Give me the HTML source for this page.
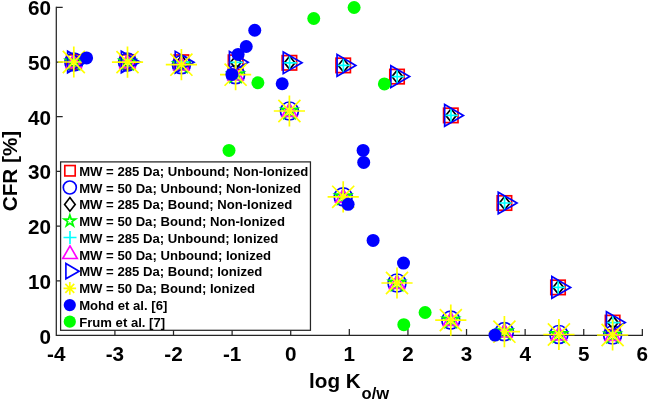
<!DOCTYPE html>
<html><head><meta charset="utf-8"><title>CFR vs log Ko/w</title>
<style>html,body{margin:0;padding:0;background:#fff}svg{display:block}text{font-family:"Liberation Sans",Arial,sans-serif;font-weight:bold;fill:#000}</style></head><body>
<svg width="648" height="400" viewBox="0 0 648 400">
<rect width="648" height="400" fill="#fff"/>
<path d="M56.3 6.7V335.45H642.95" fill="none" stroke="#262626" stroke-width="1.25"/>
<path d="M114.91 335.45v-6.4M173.51 335.45v-6.4M232.12 335.45v-6.4M290.72 335.45v-6.4M349.32 335.45v-6.4M407.93 335.45v-6.4M466.53 335.45v-6.4M525.14 335.45v-6.4M583.74 335.45v-6.4M642.35 335.45v-6.4M56.3 280.76h6.4M56.3 226.07h6.4M56.3 171.38h6.4M56.3 116.69h6.4M56.3 62.00h6.4M56.3 7.31h6.4" fill="none" stroke="#262626" stroke-width="1.25"/>
<text x="56.30" y="361.3" font-size="20.7" text-anchor="middle">-4</text>
<text x="114.91" y="361.3" font-size="20.7" text-anchor="middle">-3</text>
<text x="173.51" y="361.3" font-size="20.7" text-anchor="middle">-2</text>
<text x="232.12" y="361.3" font-size="20.7" text-anchor="middle">-1</text>
<text x="290.72" y="361.3" font-size="20.7" text-anchor="middle">0</text>
<text x="349.32" y="361.3" font-size="20.7" text-anchor="middle">1</text>
<text x="407.93" y="361.3" font-size="20.7" text-anchor="middle">2</text>
<text x="466.53" y="361.3" font-size="20.7" text-anchor="middle">3</text>
<text x="525.14" y="361.3" font-size="20.7" text-anchor="middle">4</text>
<text x="583.74" y="361.3" font-size="20.7" text-anchor="middle">5</text>
<text x="642.35" y="361.3" font-size="20.7" text-anchor="middle">6</text>
<text x="51" y="343.55" font-size="20.7" text-anchor="end">0</text>
<text x="51" y="288.86" font-size="20.7" text-anchor="end">10</text>
<text x="51" y="234.17" font-size="20.7" text-anchor="end">20</text>
<text x="51" y="179.48" font-size="20.7" text-anchor="end">30</text>
<text x="51" y="124.79" font-size="20.7" text-anchor="end">40</text>
<text x="51" y="70.10" font-size="20.7" text-anchor="end">50</text>
<text x="51" y="15.41" font-size="20.7" text-anchor="end">60</text>
<text transform="translate(17.1 171) rotate(-90)" font-size="20.7" text-anchor="middle">CFR [%]</text>
<text x="309" y="387.5" font-size="20.7">log K<tspan font-size="16.6" dx="0.8" dy="11.6">o/w</tspan></text>
<g stroke-miterlimit="10"><rect x="66.60" y="54.80" width="14.40" height="14.40" fill="none" stroke="#ff0000" stroke-width="1.7"/><rect x="120.30" y="54.80" width="14.40" height="14.40" fill="none" stroke="#ff0000" stroke-width="1.7"/><rect x="174.20" y="55.00" width="14.40" height="14.40" fill="none" stroke="#ff0000" stroke-width="1.7"/><rect x="228.40" y="55.10" width="14.40" height="14.40" fill="none" stroke="#ff0000" stroke-width="1.7"/><rect x="282.20" y="55.60" width="14.40" height="14.40" fill="none" stroke="#ff0000" stroke-width="1.7"/><rect x="336.00" y="58.20" width="14.40" height="14.40" fill="none" stroke="#ff0000" stroke-width="1.7"/><rect x="389.80" y="69.40" width="14.40" height="14.40" fill="none" stroke="#ff0000" stroke-width="1.7"/><rect x="443.60" y="108.20" width="14.40" height="14.40" fill="none" stroke="#ff0000" stroke-width="1.7"/><rect x="497.20" y="195.80" width="14.40" height="14.40" fill="none" stroke="#ff0000" stroke-width="1.7"/><rect x="550.80" y="280.20" width="14.40" height="14.40" fill="none" stroke="#ff0000" stroke-width="1.7"/><rect x="605.40" y="315.40" width="14.40" height="14.40" fill="none" stroke="#ff0000" stroke-width="1.7"/></g>
<g stroke-miterlimit="10"><circle cx="73.80" cy="62.00" r="9.0" fill="none" stroke="#0000ff" stroke-width="1.7"/><circle cx="127.50" cy="62.10" r="9.0" fill="none" stroke="#0000ff" stroke-width="1.7"/><circle cx="181.40" cy="64.70" r="9.0" fill="none" stroke="#0000ff" stroke-width="1.7"/><circle cx="235.60" cy="74.70" r="9.0" fill="none" stroke="#0000ff" stroke-width="1.7"/><circle cx="289.40" cy="111.00" r="9.0" fill="none" stroke="#0000ff" stroke-width="1.7"/><circle cx="343.20" cy="196.80" r="9.0" fill="none" stroke="#0000ff" stroke-width="1.7"/><circle cx="397.00" cy="283.00" r="9.0" fill="none" stroke="#0000ff" stroke-width="1.7"/><circle cx="450.80" cy="320.10" r="9.0" fill="none" stroke="#0000ff" stroke-width="1.7"/><circle cx="504.40" cy="331.70" r="9.0" fill="none" stroke="#0000ff" stroke-width="1.7"/><circle cx="558.90" cy="334.50" r="9.0" fill="none" stroke="#0000ff" stroke-width="1.7"/><circle cx="612.60" cy="335.00" r="9.0" fill="none" stroke="#0000ff" stroke-width="1.7"/></g>
<g stroke-miterlimit="10"><path d="M74.10 55.40L79.40 62.00L74.10 68.60L68.80 62.00Z" fill="none" stroke="#000000" stroke-width="1.7"/><path d="M127.80 55.40L133.10 62.00L127.80 68.60L122.50 62.00Z" fill="none" stroke="#000000" stroke-width="1.7"/><path d="M181.70 55.60L187.00 62.20L181.70 68.80L176.40 62.20Z" fill="none" stroke="#000000" stroke-width="1.7"/><path d="M235.90 55.70L241.20 62.30L235.90 68.90L230.60 62.30Z" fill="none" stroke="#000000" stroke-width="1.7"/><path d="M289.70 56.20L295.00 62.80L289.70 69.40L284.40 62.80Z" fill="none" stroke="#000000" stroke-width="1.7"/><path d="M343.50 58.80L348.80 65.40L343.50 72.00L338.20 65.40Z" fill="none" stroke="#000000" stroke-width="1.7"/><path d="M397.30 70.00L402.60 76.60L397.30 83.20L392.00 76.60Z" fill="none" stroke="#000000" stroke-width="1.7"/><path d="M451.10 108.80L456.40 115.40L451.10 122.00L445.80 115.40Z" fill="none" stroke="#000000" stroke-width="1.7"/><path d="M504.70 196.40L510.00 203.00L504.70 209.60L499.40 203.00Z" fill="none" stroke="#000000" stroke-width="1.7"/><path d="M558.30 280.80L563.60 287.40L558.30 294.00L553.00 287.40Z" fill="none" stroke="#000000" stroke-width="1.7"/><path d="M612.90 316.00L618.20 322.60L612.90 329.20L607.60 322.60Z" fill="none" stroke="#000000" stroke-width="1.7"/></g>
<g stroke-miterlimit="10"><path d="M73.80 53.40L75.73 59.34L81.98 59.34L76.92 63.02L78.85 68.96L73.80 65.29L68.75 68.96L70.68 63.02L65.62 59.34L71.87 59.34Z" fill="none" stroke="#00ff00" stroke-width="1.7" stroke-miterlimit="10"/><path d="M127.50 53.50L129.43 59.44L135.68 59.44L130.62 63.12L132.55 69.06L127.50 65.39L122.45 69.06L124.38 63.12L119.32 59.44L125.57 59.44Z" fill="none" stroke="#00ff00" stroke-width="1.7" stroke-miterlimit="10"/><path d="M181.40 56.10L183.33 62.04L189.58 62.04L184.52 65.72L186.45 71.66L181.40 67.99L176.35 71.66L178.28 65.72L173.22 62.04L179.47 62.04Z" fill="none" stroke="#00ff00" stroke-width="1.7" stroke-miterlimit="10"/><path d="M235.60 66.10L237.53 72.04L243.78 72.04L238.72 75.72L240.65 81.66L235.60 77.99L230.55 81.66L232.48 75.72L227.42 72.04L233.67 72.04Z" fill="none" stroke="#00ff00" stroke-width="1.7" stroke-miterlimit="10"/><path d="M289.40 102.40L291.33 108.34L297.58 108.34L292.52 112.02L294.45 117.96L289.40 114.29L284.35 117.96L286.28 112.02L281.22 108.34L287.47 108.34Z" fill="none" stroke="#00ff00" stroke-width="1.7" stroke-miterlimit="10"/><path d="M343.20 188.20L345.13 194.14L351.38 194.14L346.32 197.82L348.25 203.76L343.20 200.09L338.15 203.76L340.08 197.82L335.02 194.14L341.27 194.14Z" fill="none" stroke="#00ff00" stroke-width="1.7" stroke-miterlimit="10"/><path d="M397.00 274.40L398.93 280.34L405.18 280.34L400.12 284.02L402.05 289.96L397.00 286.29L391.95 289.96L393.88 284.02L388.82 280.34L395.07 280.34Z" fill="none" stroke="#00ff00" stroke-width="1.7" stroke-miterlimit="10"/><path d="M450.80 311.50L452.73 317.44L458.98 317.44L453.92 321.12L455.85 327.06L450.80 323.39L445.75 327.06L447.68 321.12L442.62 317.44L448.87 317.44Z" fill="none" stroke="#00ff00" stroke-width="1.7" stroke-miterlimit="10"/><path d="M504.40 323.10L506.33 329.04L512.58 329.04L507.52 332.72L509.45 338.66L504.40 334.99L499.35 338.66L501.28 332.72L496.22 329.04L502.47 329.04Z" fill="none" stroke="#00ff00" stroke-width="1.7" stroke-miterlimit="10"/><path d="M558.90 325.90L560.83 331.84L567.08 331.84L562.02 335.52L563.95 341.46L558.90 337.79L553.85 341.46L555.78 335.52L550.72 331.84L556.97 331.84Z" fill="none" stroke="#00ff00" stroke-width="1.7" stroke-miterlimit="10"/><path d="M612.60 326.40L614.53 332.34L620.78 332.34L615.72 336.02L617.65 341.96L612.60 338.29L607.55 341.96L609.48 336.02L604.42 332.34L610.67 332.34Z" fill="none" stroke="#00ff00" stroke-width="1.7" stroke-miterlimit="10"/></g>
<g stroke-miterlimit="10"><path d="M66.80 62.00H81.20M74.00 54.80V69.20" fill="none" stroke="#00ffff" stroke-width="1.7"/><path d="M120.50 62.00H134.90M127.70 54.80V69.20" fill="none" stroke="#00ffff" stroke-width="1.7"/><path d="M174.40 62.20H188.80M181.60 55.00V69.40" fill="none" stroke="#00ffff" stroke-width="1.7"/><path d="M228.60 62.30H243.00M235.80 55.10V69.50" fill="none" stroke="#00ffff" stroke-width="1.7"/><path d="M282.40 62.80H296.80M289.60 55.60V70.00" fill="none" stroke="#00ffff" stroke-width="1.7"/><path d="M336.20 65.40H350.60M343.40 58.20V72.60" fill="none" stroke="#00ffff" stroke-width="1.7"/><path d="M390.00 76.60H404.40M397.20 69.40V83.80" fill="none" stroke="#00ffff" stroke-width="1.7"/><path d="M443.80 115.40H458.20M451.00 108.20V122.60" fill="none" stroke="#00ffff" stroke-width="1.7"/><path d="M497.40 203.00H511.80M504.60 195.80V210.20" fill="none" stroke="#00ffff" stroke-width="1.7"/><path d="M551.00 287.40H565.40M558.20 280.20V294.60" fill="none" stroke="#00ffff" stroke-width="1.7"/><path d="M605.60 322.60H620.00M612.80 315.40V329.80" fill="none" stroke="#00ffff" stroke-width="1.7"/></g>
<g stroke-miterlimit="10"><path d="M73.80 54.40L81.25 67.30L66.35 67.30Z" fill="none" stroke="#ff00ff" stroke-width="1.7"/><path d="M127.50 54.50L134.95 67.40L120.05 67.40Z" fill="none" stroke="#ff00ff" stroke-width="1.7"/><path d="M181.40 57.10L188.85 70.00L173.95 70.00Z" fill="none" stroke="#ff00ff" stroke-width="1.7"/><path d="M235.60 67.10L243.05 80.00L228.15 80.00Z" fill="none" stroke="#ff00ff" stroke-width="1.7"/><path d="M289.40 103.40L296.85 116.30L281.95 116.30Z" fill="none" stroke="#ff00ff" stroke-width="1.7"/><path d="M343.20 189.20L350.65 202.10L335.75 202.10Z" fill="none" stroke="#ff00ff" stroke-width="1.7"/><path d="M397.00 275.40L404.45 288.30L389.55 288.30Z" fill="none" stroke="#ff00ff" stroke-width="1.7"/><path d="M450.80 312.50L458.25 325.40L443.35 325.40Z" fill="none" stroke="#ff00ff" stroke-width="1.7"/><path d="M504.40 324.10L511.85 337.00L496.95 337.00Z" fill="none" stroke="#ff00ff" stroke-width="1.7"/><path d="M558.90 326.90L566.35 339.80L551.45 339.80Z" fill="none" stroke="#ff00ff" stroke-width="1.7"/><path d="M612.60 327.40L620.05 340.30L605.15 340.30Z" fill="none" stroke="#ff00ff" stroke-width="1.7"/></g>
<g stroke-miterlimit="10"><path d="M86.40 62.00L67.65 72.83L67.65 51.17Z" fill="none" stroke="#0000ff" stroke-width="1.7"/><path d="M140.10 62.00L121.35 72.83L121.35 51.17Z" fill="none" stroke="#0000ff" stroke-width="1.7"/><path d="M194.00 62.20L175.25 73.03L175.25 51.37Z" fill="none" stroke="#0000ff" stroke-width="1.7"/><path d="M248.20 62.30L229.45 73.13L229.45 51.47Z" fill="none" stroke="#0000ff" stroke-width="1.7"/><path d="M302.00 62.80L283.25 73.63L283.25 51.97Z" fill="none" stroke="#0000ff" stroke-width="1.7"/><path d="M355.80 65.40L337.05 76.23L337.05 54.57Z" fill="none" stroke="#0000ff" stroke-width="1.7"/><path d="M409.60 76.60L390.85 87.43L390.85 65.77Z" fill="none" stroke="#0000ff" stroke-width="1.7"/><path d="M463.40 115.40L444.65 126.23L444.65 104.57Z" fill="none" stroke="#0000ff" stroke-width="1.7"/><path d="M517.00 203.00L498.25 213.83L498.25 192.17Z" fill="none" stroke="#0000ff" stroke-width="1.7"/><path d="M570.60 287.40L551.85 298.23L551.85 276.57Z" fill="none" stroke="#0000ff" stroke-width="1.7"/><path d="M625.20 322.60L606.45 333.43L606.45 311.77Z" fill="none" stroke="#0000ff" stroke-width="1.7"/></g>
<g stroke-miterlimit="10"><path d="M58.20 62.00H89.40M73.80 46.40V77.60M62.77 50.97L84.83 73.03M62.77 73.03L84.83 50.97" fill="none" stroke="#ffff00" stroke-width="1.7"/><path d="M111.90 62.10H143.10M127.50 46.50V77.70M116.47 51.07L138.53 73.13M116.47 73.13L138.53 51.07" fill="none" stroke="#ffff00" stroke-width="1.7"/><path d="M165.80 64.70H197.00M181.40 49.10V80.30M170.37 53.67L192.43 75.73M170.37 75.73L192.43 53.67" fill="none" stroke="#ffff00" stroke-width="1.7"/><path d="M220.00 74.70H251.20M235.60 59.10V90.30M224.57 63.67L246.63 85.73M224.57 85.73L246.63 63.67" fill="none" stroke="#ffff00" stroke-width="1.7"/><path d="M273.80 111.00H305.00M289.40 95.40V126.60M278.37 99.97L300.43 122.03M278.37 122.03L300.43 99.97" fill="none" stroke="#ffff00" stroke-width="1.7"/><path d="M327.60 196.80H358.80M343.20 181.20V212.40M332.17 185.77L354.23 207.83M332.17 207.83L354.23 185.77" fill="none" stroke="#ffff00" stroke-width="1.7"/><path d="M381.40 283.00H412.60M397.00 267.40V298.60M385.97 271.97L408.03 294.03M385.97 294.03L408.03 271.97" fill="none" stroke="#ffff00" stroke-width="1.7"/><path d="M435.20 320.10H466.40M450.80 304.50V335.70M439.77 309.07L461.83 331.13M439.77 331.13L461.83 309.07" fill="none" stroke="#ffff00" stroke-width="1.7"/><path d="M488.80 331.70H520.00M504.40 316.10V347.30M493.37 320.67L515.43 342.73M493.37 342.73L515.43 320.67" fill="none" stroke="#ffff00" stroke-width="1.7"/><path d="M543.30 334.50H574.50M558.90 318.90V350.10M547.87 323.47L569.93 345.53M547.87 345.53L569.93 323.47" fill="none" stroke="#ffff00" stroke-width="1.7"/><path d="M597.00 335.00H628.20M612.60 319.40V350.60M601.57 323.97L623.63 346.03M601.57 346.03L623.63 323.97" fill="none" stroke="#ffff00" stroke-width="1.7"/></g>
<g><circle cx="86.60" cy="57.90" r="6.5" fill="#0000ff"/><circle cx="254.75" cy="30.25" r="6.5" fill="#0000ff"/><circle cx="246.25" cy="46.50" r="6.5" fill="#0000ff"/><circle cx="238.10" cy="54.40" r="6.5" fill="#0000ff"/><circle cx="231.90" cy="74.40" r="6.5" fill="#0000ff"/><circle cx="282.20" cy="83.75" r="6.5" fill="#0000ff"/><circle cx="348.10" cy="204.30" r="6.5" fill="#0000ff"/><circle cx="373.10" cy="240.40" r="6.5" fill="#0000ff"/><circle cx="363.10" cy="150.40" r="6.5" fill="#0000ff"/><circle cx="363.70" cy="162.40" r="6.5" fill="#0000ff"/><circle cx="403.50" cy="263.10" r="6.5" fill="#0000ff"/><circle cx="495.00" cy="335.10" r="6.5" fill="#0000ff"/></g>
<g><circle cx="229.00" cy="150.40" r="6.5" fill="#00ff00"/><circle cx="257.90" cy="82.75" r="6.5" fill="#00ff00"/><circle cx="313.75" cy="18.50" r="6.5" fill="#00ff00"/><circle cx="354.10" cy="7.50" r="6.5" fill="#00ff00"/><circle cx="384.40" cy="83.90" r="6.5" fill="#00ff00"/><circle cx="403.80" cy="324.70" r="6.5" fill="#00ff00"/><circle cx="425.10" cy="312.50" r="6.5" fill="#00ff00"/></g>
<rect x="60.6" y="161.9" width="249.85" height="168.4" fill="#fff" stroke="#262626" stroke-width="1.25"/>
<text x="79.2" y="175.90" font-size="13.12">MW = 285 Da; Unbound; Non-Ionized</text>
<rect x="64.80" y="165.55" width="10.40" height="10.40" fill="none" stroke="#ff0000" stroke-width="1.65"/>
<text x="79.2" y="192.65" font-size="13.12">MW = 50 Da; Unbound; Non-Ionized</text>
<circle cx="69.80" cy="187.52" r="6.5" fill="none" stroke="#0000ff" stroke-width="1.65"/>
<text x="79.2" y="209.40" font-size="13.12">MW = 285 Da; Bound; Non-Ionized</text>
<path d="M69.90 197.59L75.20 204.39L69.90 211.19L64.60 204.39Z" fill="none" stroke="#000000" stroke-width="1.65"/>
<text x="79.2" y="226.15" font-size="13.12">MW = 50 Da; Bound; Non-Ionized</text>
<path d="M69.85 214.96L71.20 219.11L75.56 219.11L72.03 221.67L73.38 225.81L69.85 223.25L66.32 225.81L67.67 221.67L64.14 219.11L68.50 219.11Z" fill="none" stroke="#00ff00" stroke-width="1.7" stroke-miterlimit="10"/>
<text x="79.2" y="242.90" font-size="13.12">MW = 285 Da; Unbound; Ionized</text>
<path d="M63.50 237.53H76.50M70.00 231.03V244.03" fill="none" stroke="#00ffff" stroke-width="1.65"/>
<text x="79.2" y="259.65" font-size="13.12">MW = 50 Da; Unbound; Ionized</text>
<path d="M70.00 245.90L77.27 258.50L62.73 258.50Z" fill="none" stroke="#ff00ff" stroke-width="1.65"/>
<text x="79.2" y="276.40" font-size="13.12">MW = 285 Da; Bound; Ionized</text>
<path d="M79.10 271.17L65.90 278.79L65.90 263.55Z" fill="none" stroke="#0000ff" stroke-width="1.65"/>
<text x="79.2" y="293.15" font-size="13.12">MW = 50 Da; Bound; Ionized</text>
<path d="M63.50 288.34H76.10M69.80 282.04V294.64M65.35 283.89L74.25 292.79M65.35 292.79L74.25 283.89" fill="none" stroke="#ffff00" stroke-width="1.7"/>
<text x="79.2" y="309.90" font-size="13.12">Mohd et al. [6]</text>
<circle cx="69.80" cy="305.11" r="6.1" fill="#0000ff"/>
<text x="79.2" y="326.65" font-size="13.12">Frum et al. [7]</text>
<circle cx="69.80" cy="321.68" r="6.1" fill="#00ff00"/>
</svg></body></html>
